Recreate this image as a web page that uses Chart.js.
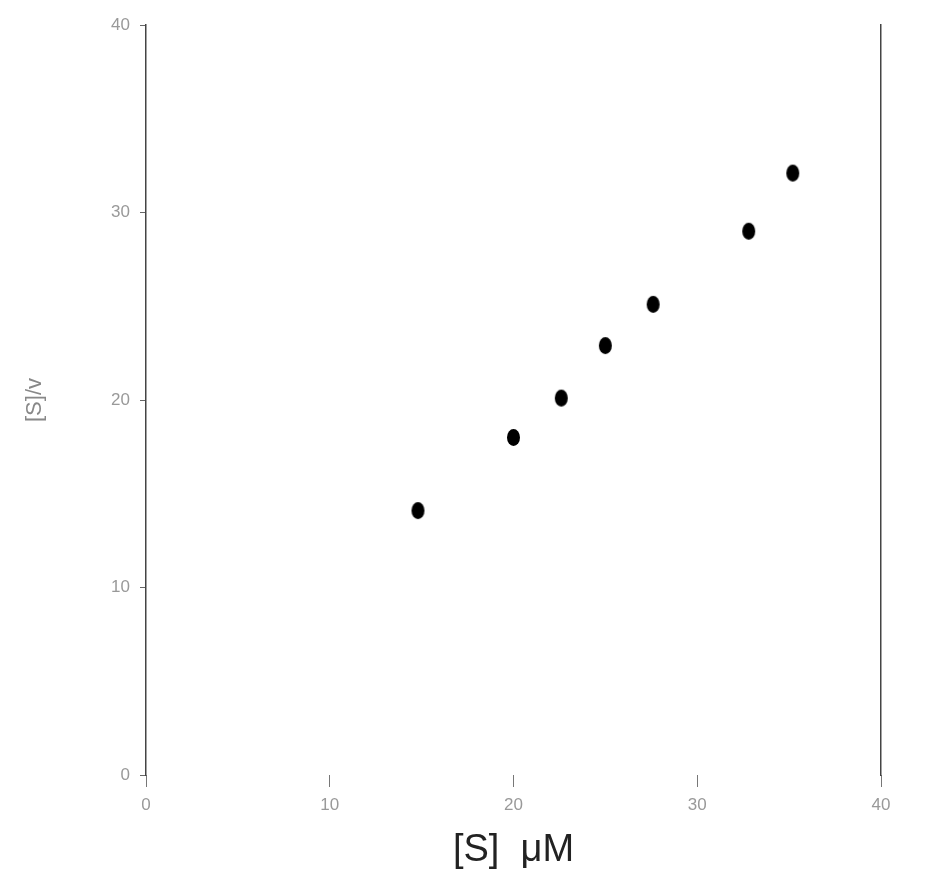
<!DOCTYPE html>
<html>
<head>
<meta charset="utf-8">
<script src="https://cdn.jsdelivr.net/npm/chart.js@4.4.1/dist/chart.umd.min.js"></script>
<style>
  html, body { margin: 0; padding: 0; background: #ffffff; }
  #wrap { width: 939px; height: 895px; }
</style>
</head>
<body>
<div id="wrap"><canvas id="c" width="939" height="895"></canvas></div>
<script>
// Data
const substrateConc = [14.8, 20, 22.6, 25, 27.6, 32.8, 35.2];    // [S] µM
const ratioValues   = [14.1, 18.0, 20.1, 22.9, 25.1, 29.0, 32.1]; // [S]/v
const xTickValues = [0, 10, 20, 30, 40];
const yTickValues = [0, 10, 20, 30, 40];
const xTitle = '[S]  \u03BCM';
const yTitle = '[S]/v';

// elliptical marker
function makeMarker() {
  const cv = document.createElement('canvas');
  cv.width = 15; cv.height = 19;
  const g = cv.getContext('2d');
  g.fillStyle = '#000';
  g.beginPath();
  g.ellipse(7.5, 9.5, 6.5, 8.5, 0, 0, Math.PI * 2);
  g.fill();
  return cv;
}
const marker = makeMarker();

const pts = substrateConc.map((x, i) => ({ x: x, y: ratioValues[i] }));

new Chart(document.getElementById('c'), {
  type: 'scatter',
  data: {
    datasets: [{
      data: pts,
      pointStyle: marker,
      backgroundColor: '#000',
      borderColor: '#000',
      showLine: false
    }]
  },
  options: {
    responsive: false,
    animation: false,
    devicePixelRatio: 1,
    layout: { padding: { top: 25, left: 0, right: 0, bottom: 0 } },
    plugins: { legend: { display: false }, tooltip: { enabled: false } },
    scales: {
      x: {
        type: 'linear',
        min: 0, max: 40,
        afterFit: s => { s.height = 120; },
        afterBuildTicks: s => { s.ticks = xTickValues.map(v => ({ value: v })); },
        border: { display: false },
        grid: { drawOnChartArea: false, drawTicks: true, tickLength: 12, color: '#777', lineWidth: 1 },
        ticks: { color: '#999', font: { family: 'Liberation Sans', size: 17 }, padding: 8 },
        title: {
          display: true, text: xTitle, color: '#222',
          font: { family: 'Liberation Sans', size: 38 },
          padding: { top: 0, bottom: 22 }
        }
      },
      y: {
        type: 'linear', position: 'left',
        min: 0, max: 40,
        afterFit: s => { s.width = 146; },
        afterBuildTicks: s => { s.ticks = yTickValues.map(v => ({ value: v })); },
        border: { display: true, color: '#444', width: 1.5 },
        grid: { drawOnChartArea: false, drawTicks: true, tickLength: 6, color: '#666' },
        ticks: { color: '#999', font: { family: 'Liberation Sans', size: 17 }, padding: 10 },
        title: {
          display: true, text: yTitle, color: '#888',
          font: { family: 'Liberation Sans', size: 22 },
          padding: { top: 22, bottom: 0 }
        }
      },
      y2: {
        type: 'linear', position: 'right',
        min: 0, max: 40,
        afterFit: s => { s.width = 58; },
        border: { display: true, color: '#444', width: 1.5 },
        grid: { display: false, drawOnChartArea: false },
        ticks: { display: false }
      }
    }
  }
});
</script>
</body>
</html>
